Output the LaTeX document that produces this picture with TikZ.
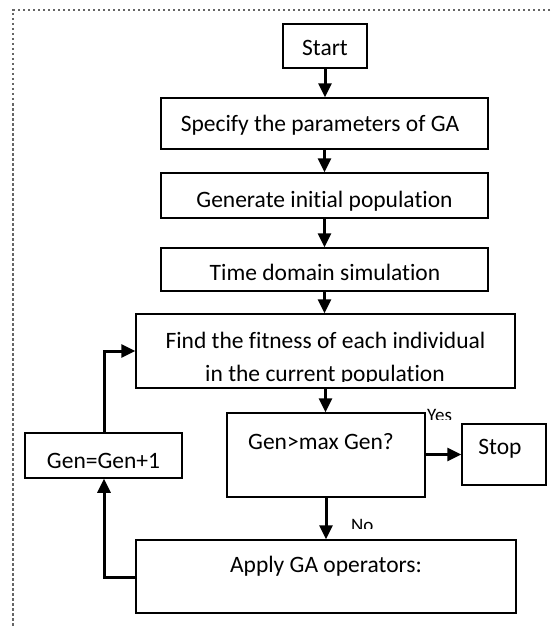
\documentclass[tikz,border=0pt]{standalone}
\usepackage{fontspec}
\setmainfont[Ligatures=NoCommon]{Carlito}
\usetikzlibrary{arrows.meta}
\begin{document}
\begin{tikzpicture}[x=1pt,y=-1pt,
  box/.style={draw=black, line width=1.5pt, inner sep=0pt},
  txt/.style={anchor=base, inner sep=0pt, font=\fontsize{23.5}{28}\selectfont},
  small/.style={anchor=base west, inner sep=0pt, font=\fontsize{19}{23}\selectfont},
  arr/.style={draw=black, line width=3pt, -{Triangle[length=14pt,width=13pt]}},
  border/.style={draw=black!60, line width=1.6pt, dash pattern=on 2.5pt off 2.5pt}]
\useasboundingbox (0,0) rectangle (550,626);
\draw[border] (550,10) -- (13,10) -- (13,626);

% boxes
\node[box, minimum width=84pt,  minimum height=44pt] (start) at (325,46) {};
\node[box, minimum width=327pt, minimum height=51pt] (spec)  at (324.5,123.5) {};
\node[box, minimum width=327pt, minimum height=45pt] (gen)   at (324.5,195.5) {};
\node[box, minimum width=327pt, minimum height=43pt] (time)  at (324.5,269.5) {};
\node[box, minimum width=379pt, minimum height=74pt] (find)  at (325.5,351) {};
\node[box, minimum width=198pt, minimum height=84pt] (cond)  at (326,455) {};
\node[box, minimum width=84pt,  minimum height=61pt] (stop)  at (504,454.5) {};
\node[box, minimum width=157pt, minimum height=45pt] (inc)   at (103.5,455.5) {};
\node[box, minimum width=380pt, minimum height=73pt] (apply) at (326,576.5) {};

% texts
\node[txt] (tstart) at (325,56) {Start};
\node[txt] (tspec)  at (320,131) {Specify the parameters of GA};
\node[txt] (tgen)   at (324.5,207) {Generate initial population};
\node[txt] (ttime)  at (325,280) {Time domain simulation};
\begin{scope}
  \clip (137,315) rectangle (514,381);
  \node[txt] (tfind1) at (325.5,348) {Find the fitness of each individual};
  \node[txt] (tfind2) at (325,381) {in the current population};
\end{scope}
\node[txt] (tcond)  at (321,449.5) {Gen>max Gen?};
\node[txt] (tstop)  at (500,454) {Stop};
\node[txt] (tinc)   at (103.5,468) {Gen=Gen+1};
\node[txt] (tapply) at (326,572) {Apply GA operators:};

\begin{scope}
  \clip (420,400) rectangle (470,419);
  \node[small] (yes) at (427,421) {Yes};
\end{scope}
\begin{scope}
  \clip (340,505) rectangle (390,528);
  \node[small] (no) at (351,531) {No};
\end{scope}

% connectors
\draw[arr] (start.south) -- (start.south |- spec.north);
\draw[arr] (spec.south) -- (spec.south |- gen.north);
\draw[arr] (gen.south) -- (gen.south |- time.north);
\draw[arr] (time.south) -- (time.south |- find.north);
\draw[arr] (find.south) -- (find.south |- cond.north);
\draw[arr] (stop.west -| cond.east) -- (stop.west);
\draw[arr] (cond.south) -- (cond.south |- apply.north);
\coordinate (l1) at (104,577);
\coordinate (l2) at (104,351);
\draw[arr] (apply.west |- l1) -- (l1) -- (l1 |- inc.south);
\draw[arr] (l2 |- inc.north) -- (l2) -- (l2 -| find.west);
\end{tikzpicture}
\end{document}
